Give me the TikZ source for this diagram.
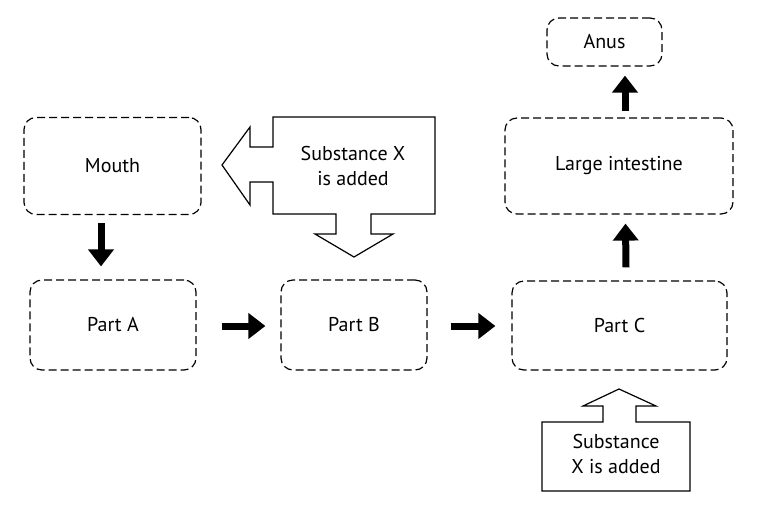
\documentclass[tikz,border=0pt]{standalone}
\usepackage{fontspec}
\setmainfont{PT Sans}
\usetikzlibrary{arrows.meta}
\begin{document}
\begin{tikzpicture}[x=1pt,y=-1pt,
  organ/.style={draw=black, dashed, dash pattern=on 8pt off 4pt, line width=1.2pt, rounded corners=12pt, align=center, inner sep=0pt, font=\fontsize{20}{25}\selectfont},
  bigarrow/.style={line width=7pt, -{Triangle[width=25pt,length=17pt]}},
  callout/.style={draw=black, line width=1.2pt, fill=white},
  callouttext/.style={align=center, inner sep=0pt, font=\fontsize{20}{25}\selectfont}]
\useasboundingbox (0,0) rectangle (758,509);
% boxes
\node[organ, minimum width=115pt, minimum height=48pt] (anus) at (604.5,42) {Anus};
\node[organ, minimum width=177pt, minimum height=97pt] (mouth) at (112.5,166) {Mouth};
\node[organ, minimum width=228pt, minimum height=96pt] (large) at (619,166) {Large intestine};
\node[organ, minimum width=166pt, minimum height=90pt] (partA) at (113,325) {Part A};
\node[organ, minimum width=146pt, minimum height=90pt] (partB) at (354,325) {Part B};
\node[organ, minimum width=215pt, minimum height=89pt] (partC) at (619.5,325.5) {Part C};
% arrows
\draw[bigarrow] ([xshift=-11.5pt,yshift=-8pt]mouth.south) -- ([xshift=-12pt,yshift=13pt]partA.north);
\draw[bigarrow] ([xshift=25pt]partA.east |- 0,326) -- ([xshift=-15pt]partB.west |- 0,326);
\draw[bigarrow] ([xshift=23pt]partB.east |- 0,326) -- ([xshift=-16pt]partC.west |- 0,326);
\draw[bigarrow] ([xshift=6.5pt,yshift=13pt]partC.north) -- ([xshift=6.5pt,yshift=-9pt]large.south);
\draw[bigarrow] ([xshift=6pt,yshift=6pt]large.north) -- ([xshift=20.5pt,yshift=-9pt]anus.south);
% top callout
\draw[callout] (273,117) -- (435,117) -- (435,214) -- (371,214) -- (371,234) -- (393,234) -- (354,257)
  -- (315,234) -- (336,234) -- (336,214) -- (273,214) -- (273,182) -- (250,182) -- (250,205)
  -- (222,165) -- (250,127) -- (250,147) -- (273,147) -- cycle;
\node[callouttext] (sub1) at (353,166) {Substance X\\is added};
% bottom callout
\draw[callout] (542,422) -- (603,422) -- (603,406) -- (583,406) -- (619,389) -- (656,406)
  -- (636,406) -- (636,422) -- (690,422) -- (690,491) -- (542,491) -- cycle;
\node[callouttext] (sub2) at (616,454) {Substance\\X is added};
\end{tikzpicture}
\end{document}
